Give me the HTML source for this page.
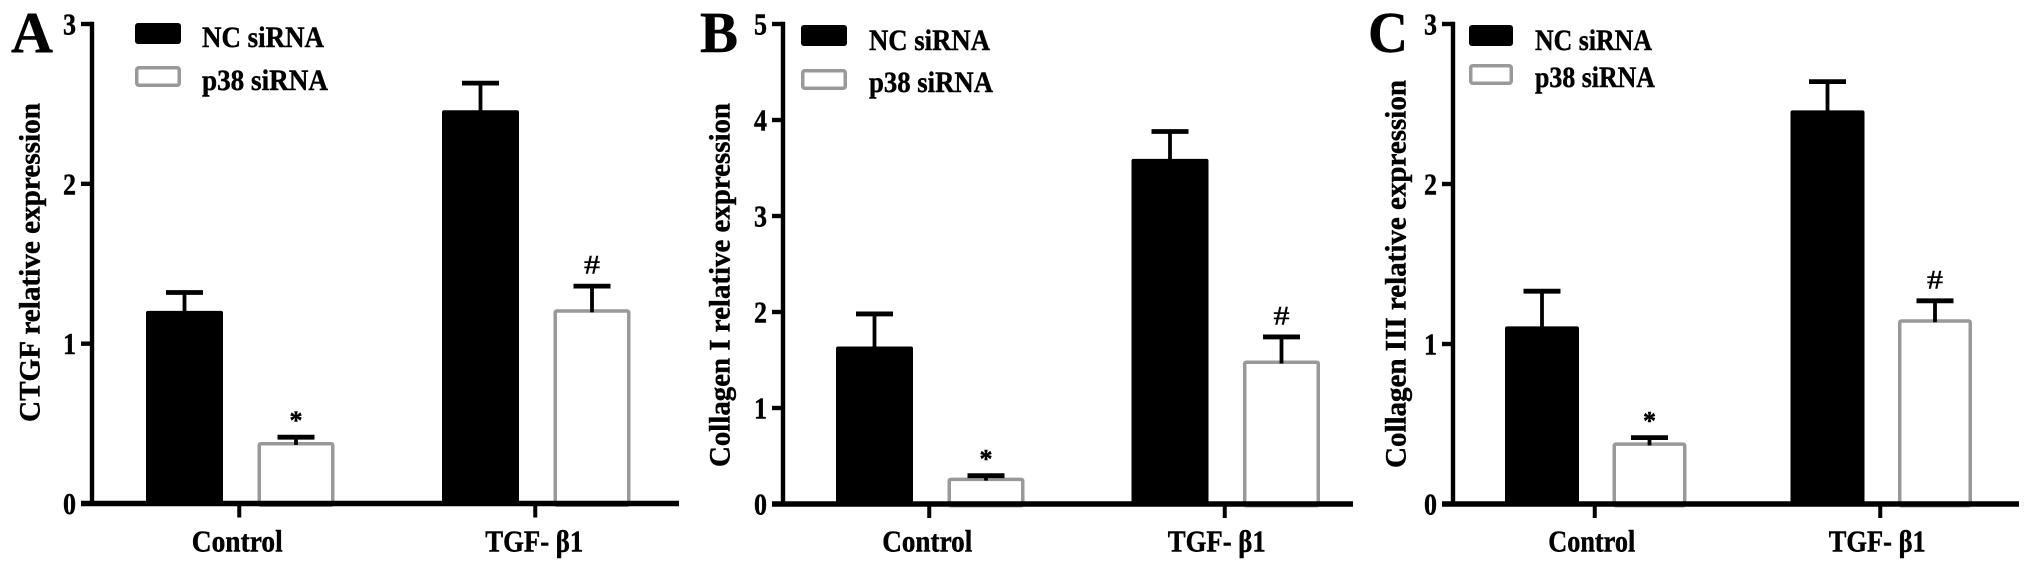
<!DOCTYPE html>
<html lang="en">
<head>
<meta charset="utf-8">
<title>siRNA relative expression charts</title>
<style>
html,body{margin:0;padding:0;background:#fff;}
svg{display:block;}
text{font-family:"Liberation Serif",serif;font-weight:bold;fill:#000;stroke:#000;stroke-width:0.45px;}
</style>
</head>
<body>
<svg id="figure" width="2031" height="567" viewBox="0 0 2031 567" xmlns="http://www.w3.org/2000/svg">
  <rect x="0" y="0" width="2031" height="567" fill="#fff"/>

  <text x="11" y="52" font-size="58" textLength="42" lengthAdjust="spacingAndGlyphs">A</text>
  <text x="700" y="52" font-size="58" textLength="38" lengthAdjust="spacingAndGlyphs">B</text>
  <text x="1368" y="52" font-size="58" textLength="40" lengthAdjust="spacingAndGlyphs">C</text>

  <text transform="translate(39.5,422) rotate(-90)" font-size="30" textLength="319" lengthAdjust="spacingAndGlyphs">CTGF relative expression</text>
  <text transform="translate(729.5,467) rotate(-90)" font-size="30" textLength="364" lengthAdjust="spacingAndGlyphs">Collagen I relative expression</text>
  <text transform="translate(1405.5,468) rotate(-90)" font-size="30" textLength="388" lengthAdjust="spacingAndGlyphs">Collagen III relative expression</text>

  <g>
    <rect x="135" y="23" width="46" height="21" rx="3" fill="#000"/>
    <text x="202" y="47" font-size="30" textLength="122" lengthAdjust="spacingAndGlyphs">NC siRNA</text>
    <rect x="136.75" y="67.75" width="42.5" height="17.5" rx="2" fill="#fff" stroke="#999" stroke-width="3.5"/>
    <text x="202" y="90" font-size="30" textLength="126" lengthAdjust="spacingAndGlyphs">p38 siRNA</text>
  </g>
  <g>
    <rect x="801" y="25" width="46" height="21" rx="3" fill="#000"/>
    <text x="869" y="50" font-size="30" textLength="121" lengthAdjust="spacingAndGlyphs">NC siRNA</text>
    <rect x="802.75" y="70.75" width="42.5" height="17.5" rx="2" fill="#fff" stroke="#999" stroke-width="3.5"/>
    <text x="869" y="92" font-size="30" textLength="124" lengthAdjust="spacingAndGlyphs">p38 siRNA</text>
  </g>
  <g>
    <rect x="1469" y="25" width="44" height="21" rx="3" fill="#000"/>
    <text x="1535" y="50" font-size="30" textLength="117" lengthAdjust="spacingAndGlyphs">NC siRNA</text>
    <rect x="1470.75" y="65.75" width="40.5" height="17.5" rx="2" fill="#fff" stroke="#999" stroke-width="3.5"/>
    <text x="1535" y="87" font-size="30" textLength="120" lengthAdjust="spacingAndGlyphs">p38 siRNA</text>
  </g>
</svg>
<script>
const categories = ['Control', 'TGF- \u03b21'];
const seriesKeys = ['nc-sirna', 'p38-sirna'];

const ticksA = [0, 1, 2, 3];
const ncValuesA = [1.205, 2.46];
const ncErrorsA = [1.32, 2.63];
const p38ValuesA = [0.385, 1.215];
const p38ErrorsA = [0.415, 1.36];
const marksA = ['*', '#'];

const ticksB = [0, 1, 2, 3, 4, 5];
const ncValuesB = [1.64, 3.595];
const ncErrorsB = [1.98, 3.88];
const p38ValuesB = [0.275, 1.495];
const p38ErrorsB = [0.295, 1.74];
const marksB = ['*', '#'];

const ticksC = [0, 1, 2, 3];
const ncValuesC = [1.11, 2.46];
const ncErrorsC = [1.33, 2.64];
const p38ValuesC = [0.385, 1.155];
const p38ErrorsC = [0.415, 1.27];
const marksC = ['*', '#'];

const SVG_NS = 'http://www.w3.org/2000/svg';
const figure = document.getElementById('figure');

function make(tag, attrs, parent) {
  const el = document.createElementNS(SVG_NS, tag);
  Object.keys(attrs).forEach(function (k) { el.setAttribute(k, attrs[k]); });
  parent.appendChild(el);
  return el;
}

function drawPanel(id, cfg, ticks, ncV, ncE, p38V, p38E, marks) {
  const group = make('g', {}, figure);
  
  

  const maxTick = ticks[ticks.length - 1];
  const yScale = function (v) { return cfg.y0 - (cfg.y0 - cfg.yTop) * v / maxTick; };
  const barX = function (c, s) { return cfg.x0 + c * cfg.catStep + s * cfg.seriesStep; };
  const values = [ncV, p38V];
  const errors = [ncE, p38E];

  categories.forEach(function (cat, c) {
    seriesKeys.forEach(function (key, s) {
      const x = barX(c, s);
      const top = yScale(values[s][c]);
      let bar;
      if (s === 0) {
        bar = make('rect', { x: x, y: top, width: cfg.barW, height: cfg.y0 - top, rx: 2, fill: '#000' }, group);
      } else {
        bar = make('rect', { x: x + 1.75, y: top + 1.75, width: cfg.barW - 3.5, height: cfg.y0 - top, rx: 1.5, fill: '#fff', stroke: '#999', 'stroke-width': 3.5 }, group);
      }
      
      

      const cx = x + cfg.barW / 2;
      const capY = yScale(errors[s][c]);
      const stem = make('line', { x1: cx, x2: cx, y1: top + (s === 0 ? 1 : 3), y2: capY, stroke: '#000', 'stroke-width': 3.8 }, group);
      
      
      const cap = make('line', { x1: cx - 18.5, x2: cx + 18.5, y1: capY, y2: capY, stroke: '#000', 'stroke-width': 4.8 }, group);
      
      

      if (s === 1) {
        const isStar = marks[c] === '*';
        const mark = make('text', isStar
          ? { x: cx, y: capY - 8, 'font-size': 26, 'text-anchor': 'middle' }
          : { x: cx - 8, y: capY - 12.5, 'font-size': 26, textLength: 16, lengthAdjust: 'spacingAndGlyphs', style: 'font-weight:normal' }, group);
        mark.textContent = marks[c];
        
        
      }
    });

    const tickX = barX(c, 0) + (cfg.seriesStep + cfg.barW) / 2 - 1;
    const xTick = make('line', { x1: tickX, x2: tickX, y1: cfg.y0, y2: cfg.y0 + 14, stroke: '#000', 'stroke-width': 4 }, group);
    
    

    const w = c === 0 ? cfg.controlW : cfg.tgfW;
    const label = make('text', { x: tickX + cfg.labelDx[c] - w / 2, y: 551.5, 'font-size': 31, textLength: w, lengthAdjust: 'spacingAndGlyphs' }, group);
    label.textContent = cat;
    
    
  });

  const yAxis = make('line', { x1: cfg.axisX, x2: cfg.axisX, y1: cfg.yTop - 2.25, y2: cfg.y0 + 2, stroke: '#000', 'stroke-width': 4.4 }, group);
  
  
  const xAxis = make('line', { x1: cfg.axisX - 11, x2: cfg.xEnd, y1: cfg.y0, y2: cfg.y0, stroke: '#000', 'stroke-width': 5.5 }, group);
  
  

  ticks.forEach(function (t) {
    const y = yScale(t);
    const yTick = make('line', { x1: cfg.axisX - 11, x2: cfg.axisX, y1: y, y2: y, stroke: '#000', 'stroke-width': 4.4 }, group);
    
    
    const label = make('text', { x: cfg.axisX - 29, y: y + 10.5, 'font-size': 31, textLength: 13, lengthAdjust: 'spacingAndGlyphs' }, group);
    label.textContent = String(t);
    
    
  });
}

drawPanel('a', { axisX: 92, xEnd: 679, y0: 503.5, yTop: 24, x0: 146, catStep: 296, seriesStep: 111.5, barW: 77, controlW: 91, tgfW: 98, labelDx: [-2, -1] }, ticksA, ncValuesA, ncErrorsA, p38ValuesA, p38ErrorsA, marksA);
drawPanel('b', { axisX: 783, xEnd: 1353, y0: 504, yTop: 24, x0: 836, catStep: 295.5, seriesStep: 111.5, barW: 77, controlW: 90, tgfW: 98, labelDx: [-2, -8] }, ticksB, ncValuesB, ncErrorsB, p38ValuesB, p38ErrorsB, marksB);
drawPanel('c', { axisX: 1453, xEnd: 2019, y0: 504, yTop: 24, x0: 1505, catStep: 285.5, seriesStep: 107.5, barW: 74, controlW: 87, tgfW: 97, labelDx: [-3, -3] }, ticksC, ncValuesC, ncErrorsC, p38ValuesC, p38ErrorsC, marksC);
</script>
</body>
</html>
